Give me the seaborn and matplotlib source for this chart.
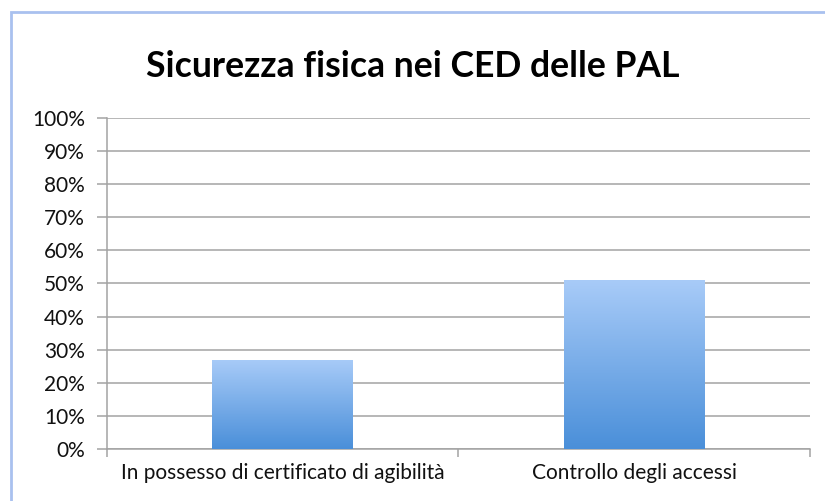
import matplotlib
matplotlib.use("Agg")
import matplotlib.pyplot as plt
import numpy as np
import pandas as pd
import seaborn as sns
from matplotlib.colors import LinearSegmentedColormap
from matplotlib.patches import Rectangle
from matplotlib.ticker import FixedLocator, PercentFormatter

# values (percent)
categories = ["In possesso di certificato di agibilità", "Controllo degli accessi"]
values = [27, 51]
y_ticks = list(range(0, 101, 10))

df = pd.DataFrame({"categoria": categories, "valore": values})

sns.set_style("white")
plt.rcParams["font.family"] = ["Lato", "DejaVu Sans"]

fig = plt.figure(figsize=(8.25, 5.01), dpi=100)
ax = fig.add_axes([0.1297, 0.1038, 0.8521, 0.6607])

sns.barplot(data=df, x="categoria", y="valore", width=0.4, color="#7fb0ec",
            edgecolor="none", ax=ax, zorder=3)

# gradient fill, clipped to each bar
grad = LinearSegmentedColormap.from_list("g", ["#4a8fd9", "#a8cbf8"])
for bar in ax.patches:
    x0, w, h = bar.get_x(), bar.get_width(), bar.get_height()
    img = ax.imshow(np.linspace(0, 1, 256).reshape(-1, 1), cmap=grad,
                    extent=[x0, x0 + w, 0, h], origin="lower",
                    aspect="auto", zorder=4)
    img.set_clip_path(bar)

ax.set_xlim(-0.5, 1.5)
ax.set_ylim(0, 100)
ax.set_yticks(y_ticks)
ax.yaxis.set_major_formatter(PercentFormatter(decimals=0))
ax.grid(axis="y", color="#a3a3a3", linewidth=1.1, zorder=0)
ax.set_xlabel("")
ax.set_ylabel("")

for side in ["top", "right"]:
    ax.spines[side].set_visible(False)
ax.spines["left"].set_color("#a3a3a3")
ax.spines["bottom"].set_color("#a3a3a3")
ax.spines["left"].set_linewidth(1.1)
ax.spines["bottom"].set_linewidth(1.1)

ax.tick_params(axis="y", length=7, width=1.1, color="#a3a3a3",
               labelsize=15, labelcolor="#111111", pad=9, left=True)
ax.tick_params(axis="x", which="major", length=0, labelsize=15,
               labelcolor="#111111", pad=10)
ax.xaxis.set_minor_locator(FixedLocator([-0.5, 0.5, 1.5]))
ax.tick_params(axis="x", which="minor", length=6, width=1.1,
               color="#a3a3a3", bottom=True)

fig.text(0.5, 0.867, "Sicurezza fisica nei CED delle PAL", ha="center",
         va="center", fontsize=25.6, fontweight="bold", color="#000000")

# chart frame (only top and left edges visible)
fig.add_artist(Rectangle((11 / 825, -0.1), 1.2, 1 - 12 / 501 + 0.1,
                         transform=fig.transFigure, fill=False,
                         edgecolor="#a9c1ef", linewidth=2))

fig.savefig("out.png", dpi=100)
